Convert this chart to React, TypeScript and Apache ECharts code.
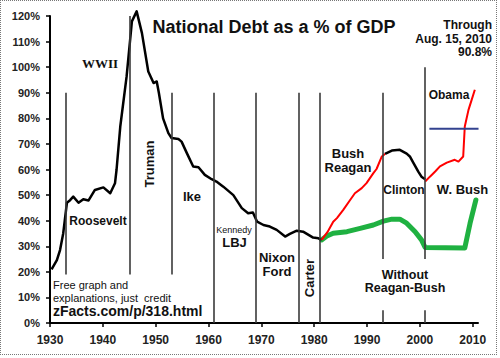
import React, { useEffect, useRef } from "react";
import * as echarts from "echarts";

// ---- data (year, % of GDP) ----
const debtPre1981: [number, number][] = [
  [1930.3, 21], [1931.3, 24.6], [1931.9, 28.5], [1932.5, 35], [1933.2, 47], [1933.8, 48],
  [1934.4, 49.4], [1935.4, 47], [1936.3, 48.4], [1937.3, 47.9], [1938.5, 52], [1940.1, 53],
  [1941.4, 50.7], [1942.3, 54.6], [1942.6, 60], [1943.3, 76.8], [1944.5, 96.4], [1945.5, 117.9],
  [1946.4, 121.8], [1947.4, 113.3], [1948.6, 98.3], [1949.6, 93.8], [1950.2, 94.4], [1950.6, 90],
  [1951.4, 80], [1952.4, 74.2], [1953, 72.3], [1954.3, 71.9], [1954.9, 70.9], [1955.9, 66.4],
  [1957.1, 61.2], [1958.1, 60.9], [1959.3, 57.9], [1960.6, 56.2], [1961.5, 55.3], [1962.8, 53.3],
  [1964.7, 50], [1966.3, 44.9], [1967.5, 42.9], [1968.4, 43.2], [1969.2, 39.6], [1970.4, 38.3],
  [1971.6, 37.7], [1972.9, 36.4], [1974.5, 33.8], [1975.4, 34.8], [1976.7, 36.1], [1977.9, 35.7],
  [1979.8, 33.4], [1980.8, 33.1], [1981.4, 32.5],
];
const debtClinton: [number, number][] = [
  [1993.4, 66.1], [1994.7, 67.4], [1996.2, 67.7], [1997.5, 66.2], [1998.1, 65.1],
  [1998.8, 62.5], [1999.7, 59.2], [2000.3, 57.2], [2001, 56.2],
];
const debtReaganBush: [number, number][] = [
  [1981.4, 32.5], [1982.5, 35.5], [1983.6, 39.6], [1984.3, 41], [1985.5, 44.2], [1986.8, 48.1],
  [1987.7, 50.7], [1989, 52.7], [1989.9, 54.7], [1991.2, 58.6], [1991.8, 60.2], [1992.8, 65.1],
  [1993.4, 66.1],
];
const debtWBushObama: [number, number][] = [
  [2001, 55.3], [2001.9, 57.2], [2002.9, 59.2], [2003.8, 61.2], [2005.1, 62.7], [2006.6, 63.8],
  [2007.3, 63.1], [2008.2, 65.1], [2008.5, 76.8], [2009.2, 83.3], [2009.8, 87.2], [2010.4, 91.2],
];
const withoutReaganBush: [number, number][] = [
  [1981.4, 32.5], [1982.4, 34], [1983.6, 35.1], [1986.2, 35.7], [1988.7, 37], [1991.2, 38.3],
  [1993.1, 39.8], [1994.7, 40.6], [1996.2, 40.6], [1997.5, 39], [1999.1, 35.7], [2000.3, 32.5],
  [2001, 29.5], [2008.5, 29.3], [2009.5, 39], [2010.6, 48.1],
];
const blueLevel: [number, number][] = [[2001.8, 75.9], [2011.1, 75.9]];
// presidential term boundaries: [year, top %, bottom %]
const termLines: [number, number, number][] = [
  [1933, 90, 19], [1945, 120, 19], [1953, 90, 19], [1961, 90, 0], [1969, 90, 0],
  [1977, 90, 0], [1981, 90, 0], [1993, 90, 25], [1993, 5, 0], [2001, 100, 25], [2001, 5, 0],
];
const xTicks = [1930, 1940, 1950, 1960, 1970, 1980, 1990, 2000, 2010];

const SANS = "'Liberation Sans', Arial, sans-serif";
const SERIF = "'Liberation Serif', 'Times New Roman', serif";

type Ann = { t: string; x: number; y: number; s: number; lh?: number; w?: string; rot?: boolean; font?: string; align?: string };
const annotations: Ann[] = [
  { t: "National Debt as a % of GDP", x: 274, y: 27, s: 18 },
  { t: "Through\nAug. 15, 2010\n90.8%", x: 492, y: 38.5, s: 12, lh: 13.5, align: "right" },
  { t: "WWII", x: 100, y: 63, s: 13, font: SERIF },
  { t: "Truman", x: 149, y: 164, s: 13, rot: true },
  { t: "Roosevelt", x: 98, y: 221, s: 12 },
  { t: "Ike", x: 192, y: 196, s: 13 },
  { t: "Kennedy", x: 234, y: 229.5, s: 9, w: "normal" },
  { t: "LBJ", x: 234.5, y: 242, s: 13 },
  { t: "Nixon\nFord", x: 277, y: 264.75, s: 13, lh: 14 },
  { t: "Carter", x: 309.5, y: 278, s: 13, rot: true },
  { t: "Bush\nReagan", x: 348, y: 160.25, s: 13, lh: 14 },
  { t: "Clinton", x: 404, y: 190, s: 12 },
  { t: "W. Bush", x: 462.5, y: 189.5, s: 13 },
  { t: "Obama", x: 449, y: 94.5, s: 12 },
  { t: "Without\nReagan-Bush", x: 405, y: 281.75, s: 12.5, lh: 13 },
  { t: "Free graph and\nexplanations, just  credit", x: 53, y: 291.25, s: 11, lh: 12.5, w: "normal", align: "left" },
  { t: "zFacts.com/p/318.html", x: 53, y: 310.5, s: 14, align: "left" },
];

export default function App() {
  const ref = useRef<HTMLDivElement>(null);
  useEffect(() => {
    if (!ref.current) return;
    const chart = echarts.init(ref.current, null, { renderer: "svg" });
    const lineBase = { type: "line", showSymbol: false, symbol: "none", clip: false, silent: true, z: 3 };
    chart.setOption({
      animation: false,
      backgroundColor: "#ffffff",
      grid: { left: 50, right: 22, top: 16, bottom: 35 },
      xAxis: {
        type: "value", min: 1930, max: 2011, interval: 10,
        axisLine: { lineStyle: { color: "#000", width: 2 } },
        axisTick: { length: 4, lineStyle: { color: "#000", width: 1.5 } },
        splitLine: { show: false },
        axisLabel: {
          margin: 11, color: "#222", fontWeight: "bold", fontSize: 12, fontFamily: SANS,
          showMaxLabel: false,
          formatter: (v: number) => (xTicks.includes(v) ? String(v) : ""),
        },
      },
      yAxis: {
        type: "value", min: 0, max: 120, interval: 10,
        axisLine: { show: true, lineStyle: { color: "#000", width: 2 } },
        axisTick: { show: true, length: 4, lineStyle: { color: "#000", width: 1.5 } },
        splitLine: { show: false },
        axisLabel: { margin: 10, color: "#222", fontWeight: "bold", fontSize: 11, fontFamily: SANS, formatter: "{value}%" },
      },
      series: [
        {
          type: "line", data: [], silent: true, z: 1,
          markLine: {
            silent: true, symbol: "none", label: { show: false },
            lineStyle: { color: "#3a3a3a", width: 1.6, type: "solid" },
            data: termLines.map(([yr, top, bot]) => [{ coord: [yr, top] }, { coord: [yr, bot] }]),
          },
        },
        { ...lineBase, data: withoutReaganBush, lineStyle: { color: "#1fb141", width: 5, cap: "round", join: "round" } },
        { ...lineBase, data: debtPre1981, lineStyle: { color: "#000", width: 2.5, join: "round" } },
        { ...lineBase, data: debtClinton, lineStyle: { color: "#000", width: 2.5, join: "round" } },
        { ...lineBase, data: debtReaganBush, lineStyle: { color: "#ff0000", width: 2, join: "round" } },
        { ...lineBase, data: debtWBushObama, lineStyle: { color: "#ff0000", width: 2, join: "round" } },
        { ...lineBase, data: blueLevel, z: 4, lineStyle: { color: "#33428f", width: 2 } },
      ],
      graphic: annotations.map((a) => ({
        type: "text",
        x: a.x, y: a.y,
        rotation: a.rot ? Math.PI / 2 : 0,
        z: 10,
        style: {
          text: a.t,
          fill: "#111",
          font: `${a.w || "bold"} ${a.s}px ${a.font || SANS}`,
          lineHeight: a.lh,
          align: a.align || "center",
          verticalAlign: "middle",
        },
      })),
    });
    return () => chart.dispose();
  }, []);
  return (
    <div style={{ position: "fixed", left: 0, top: 0, width: 500, height: 358, background: "#fff" }}>
      <div ref={ref} style={{ position: "absolute", left: 0, top: 0, width: 500, height: 358 }} />
      <div
        style={{
          position: "absolute", left: 0, top: 0, width: 497, height: 355,
          border: "1px dotted #777", boxSizing: "border-box", pointerEvents: "none",
        }}
      />
    </div>
  );
}
